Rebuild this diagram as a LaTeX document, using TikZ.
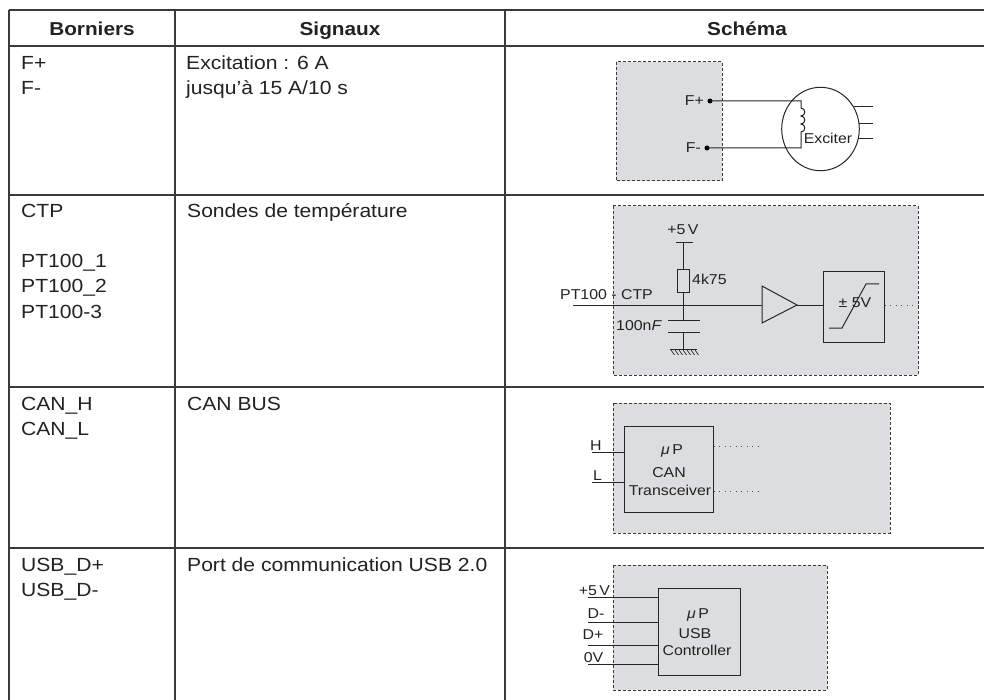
\documentclass[tikz,border=0pt]{standalone}
\usepackage{fontspec}
\setmainfont{Liberation Sans}[FakeStretch=1.11]
\usetikzlibrary{calc,shapes.geometric}
\definecolor{gridc}{HTML}{3A3A3A}
\definecolor{boxfill}{HTML}{DCDDDF}
\definecolor{txt}{HTML}{222222}
\begin{document}
\begin{tikzpicture}[x=1pt,y=-1pt,
  grid/.style={draw=gridc,line width=1.3pt},
  hdr/.style={font=\fontsize{18.7}{22}\selectfont\bfseries,text=txt,anchor=base,inner sep=0},
  cell/.style={font=\fontsize{19}{25}\selectfont,text=txt,anchor=base west,inner sep=0},
  sch/.style={font=\fontsize{14.3}{16}\selectfont,text=txt,inner sep=0},
  panel/.style={draw=gridc,fill=boxfill,dash pattern=on 3pt off 2pt,line width=1pt},
  wire/.style={draw=black!85,line width=1pt},
  blk/.style={draw=black!85,line width=1pt,inner sep=0},
  dots/.style={draw=black!70,line width=1pt,dash pattern=on 1pt off 4.5pt},
  pin/.style={circle,fill=black,inner sep=0,minimum size=5pt}]
\useasboundingbox (0,0) rectangle (984,700);
\fill[white] (0,0) rectangle (984,700);
% ---- table grid
\draw[grid] (9,10) -- (992,10);
\draw[grid] (9,46) -- (992,46);
\draw[grid] (9,195) -- (992,195);
\draw[grid] (9,387) -- (992,387);
\draw[grid] (9,548) -- (992,548);
\draw[grid] (9,10) -- (9,705);
\draw[grid] (175,10) -- (175,705);
\draw[grid] (505,10) -- (505,705);
% ---- headers
\node[hdr] (h1) at (92,36) {Borniers};
\node[hdr] (h2) at (340,36) {Signaux};
\node[hdr] (h3) at (747,36) {Schéma};
% ---- column 1
\node[cell] (b1a) at (21,70) {F+};
\node[cell] (b1b) at (21,95) {F-};
\node[cell] (b2a) at (21,218) {CTP};
\node[cell] (b2b) at (21,268) {PT100\_1};
\node[cell] (b2c) at (21,293) {PT100\_2};
\node[cell] (b2d) at (21,318) {PT100-3};
\node[cell] (b3a) at (21,410) {CAN\_H};
\node[cell] (b3b) at (21,435) {CAN\_L};
\node[cell] (b4a) at (21,571) {USB\_D+};
\node[cell] (b4b) at (21,596) {USB\_D-};
% ---- column 2
\node[cell] (s1a) at (186,70) {Excitation : 6 A};
\node[cell] (s1b) at (186,95) {jusqu’à 15 A/10 s};
\node[cell] (s2a) at (187,218) {Sondes de température};
\node[cell] (s3a) at (187,410) {CAN BUS};
\node[cell] (s4a) at (187,571) {Port de communication USB 2.0};
% ==== row 1 schematic
\draw[panel] (616,62) rectangle (722,181);
\node[pin] (fp) at (710,101) {};
\node[pin] (fm) at (707,148) {};
\node[sch,anchor=east] (lfp) at (704,101) {F+};
\node[sch,anchor=east] (lfm) at (701,148) {F-};
\node[draw=black!85,line width=1pt,ellipse,minimum width=77.6pt,minimum height=83.4pt,inner sep=0] (exc) at (820.5,129) {};
\draw[wire] (fp.center) -- (801,101) -- (801,108)
  .. controls (806,108) and (806,116) .. (801,116)
  .. controls (806,116) and (806,124) .. (801,124)
  .. controls (806,124) and (806,132) .. (801,132)
  -- (801,148) -- (fm.center);
\node[sch,anchor=base] (exct) at (828,144) {Exciter};
\coordinate (e1) at (873,107);
\coordinate (e2) at (873,124);
\coordinate (e3) at (873,139);
\draw[wire] ($(exc.center)+(33,-22)$) -- (e1);
\draw[wire] ($(exc.center)+(38.5,-5)$) -- (e2);
\draw[wire] ($(exc.center)+(37.7,10)$) -- (e3);
% ==== row 2 schematic
\draw[panel] (613,206) rectangle (918,375);
\node[sch,anchor=base] (v5) at (683,235) {+5\,V};
\coordinate (vbar) at (683,243);
\draw[wire] (676,243) -- (693,243);
\node[blk,minimum width=12pt,minimum height=23pt] (res) at (683,281.5) {};
\node[sch,anchor=base west] (r4k) at (692,284) {4k75};
\coordinate (pin2) at (573,305);
\coordinate (jn) at (683,305);
\coordinate (bufin) at (762,305);
\coordinate (bufout) at (797,305);
\draw[wire] (vbar) -- (res.north);
\draw[wire] (res.south) -- (jn);
\draw[wire] (pin2) -- (bufin);
\draw[wire] (762,286) -- (bufout) -- (762,323) -- cycle;
\node[sch,anchor=base west] (lpt) at (560,300) {PT100 - CTP};
% capacitor and ground
\coordinate (c1) at (683,320);
\coordinate (c2) at (683,332);
\coordinate (gnd) at (683,349);
\draw[wire] (jn) -- (c1);
\draw[wire] (668,320) -- (700,320);
\draw[wire] (668,332) -- (700,332);
\draw[wire] (c2) -- (gnd);
\draw[wire] (670,349) -- (697,349);
\foreach \gx in {671,675,679,683,687,691,695}
  \draw[black!85,line width=0.7pt] (\gx,350) -- (\gx+3.5,355);
\node[sch,anchor=base west] (lcap) at (616,330) {100n\textit{F}};
% limiter
\node[blk,minimum width=61pt,minimum height=70pt] (lim) at (853.5,307) {};
\draw[wire] (bufout) -- (bufout -| lim.west);
\node[sch,anchor=base] (lims) at (855,307) {± 5V};
\draw[wire] (829,328) -- (842,328) -- (866,284) -- (879,284);
\coordinate (o2) at (918,305);
\draw[dots] (lim.east |- o2) -- (o2);
% ==== row 3 schematic
\draw[panel] (613,403) rectangle (890,533);
\node[blk,minimum width=89pt,minimum height=86pt] (canb) at (668.5,469) {};
\node[sch,anchor=base] (can1) at (672,454) {\textit{μ}\,P};
\node[sch,anchor=base] (can2) at (669,477) {CAN};
\node[sch,anchor=base] (can3) at (670,495) {Transceiver};
\coordinate (hp) at (592,452);
\coordinate (lp) at (592,482);
\draw[wire] (hp) -- (hp -| canb.west);
\draw[wire] (lp) -- (lp -| canb.west);
\node[sch,anchor=base west] (lh) at (590,450) {H};
\node[sch,anchor=base west] (ll) at (593,480) {L};
\coordinate (d1) at (762,446);
\coordinate (d2) at (762,491);
\draw[dots] (d1 -| canb.east) -- (d1);
\draw[dots] (d2 -| canb.east) -- (d2);
% ==== row 4 schematic
\draw[panel] (613,565) rectangle (827,690);
\node[blk,minimum width=82pt,minimum height=87pt] (usb) at (699,631.5) {};
\node[sch,anchor=base] (usb1) at (698,618) {\textit{μ}\,P};
\node[sch,anchor=base] (usb2) at (695,638) {USB};
\node[sch,anchor=base] (usb3) at (697,655) {Controller};
\coordinate (u1) at (588,597);
\coordinate (u2) at (588,622);
\coordinate (u3) at (588,645);
\coordinate (u4) at (588,664);
\draw[wire] (u1) -- (u1 -| usb.west);
\draw[wire] (u2) -- (u2 -| usb.west);
\draw[wire] (u3) -- (u3 -| usb.west);
\draw[wire] (u4) -- (u4 -| usb.west);
\node[sch,anchor=base] (lu1) at (594.5,595) {+5\,V};
\node[sch,anchor=base] (lu2) at (596,618) {D-};
\node[sch,anchor=base] (lu3) at (593,639) {D+};
\node[sch,anchor=base] (lu4) at (593.5,662) {0V};
\end{tikzpicture}
\end{document}
